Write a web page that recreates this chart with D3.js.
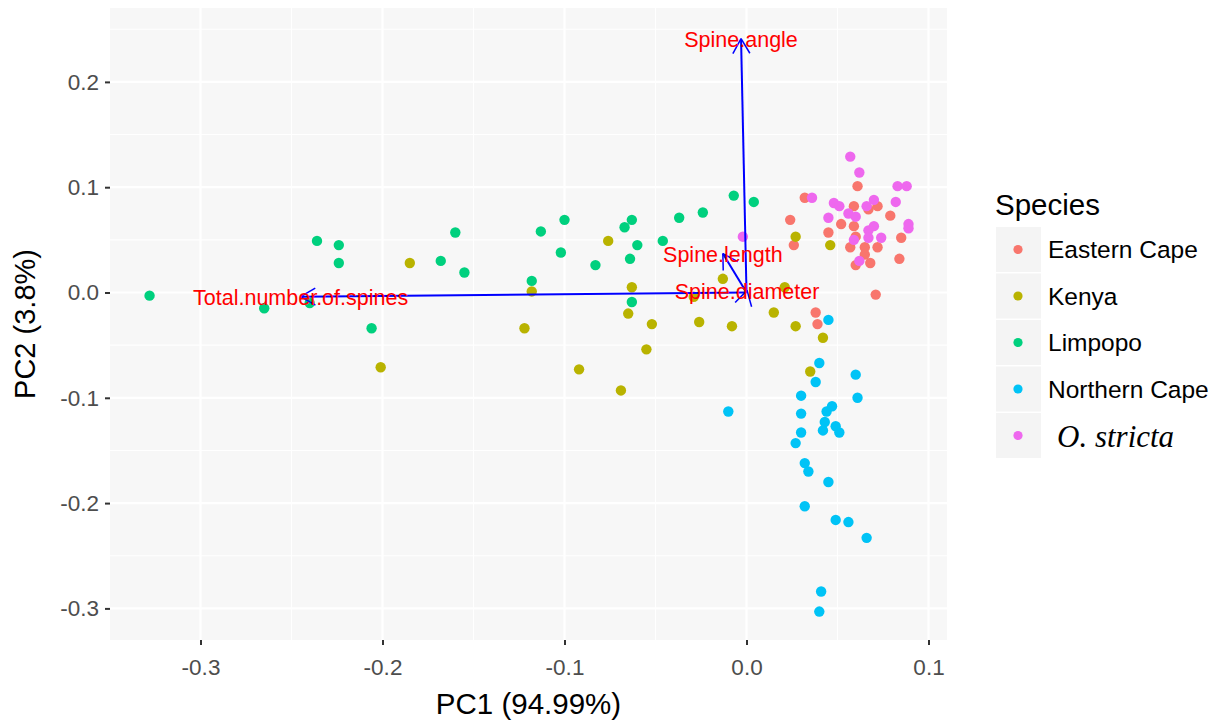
<html>
<head>
<meta charset="utf-8">
<style>
    body { margin:0; background:white; }
    text { font-family:"Liberation Sans", Arial, sans-serif; }
</style>
</head>
<body>
<svg id="plot"></svg>
<script src="https://d3js.org/d3.v7.min.js"></script>
<script>

// species groups, in legend order
var species = ["Eastern Cape","Kenya","Limpopo","Northern Cape","O. stricta"];
var colors = ["#F8766D","#B9B300","#00D07E","#00C3F6","#EE68EE"];

// PC1 / PC2 scores
var easternCape = [
    [0.032,0.090],[0.024,0.069],[0.026,0.045],[0.045,0.057],[0.038,-0.019],
    [0.039,-0.030],[0.071,-0.002],[0.061,0.101],[0.059,0.082],[0.072,0.082],
    [0.067,0.079],[0.079,0.073],[0.052,0.065],[0.059,0.063],[0.060,0.053],
    [0.085,0.052],[0.057,0.043],[0.065,0.043],[0.072,0.043],[0.065,0.036],
    [0.084,0.032],[0.060,0.026],[0.068,0.028]
];
var kenya = [
    [-0.185,0.028],[-0.118,0.001],[-0.122,-0.034],[-0.201,-0.071],[-0.076,0.049],
    [-0.092,-0.073],[-0.069,-0.093],[-0.063,0.005],[-0.065,-0.020],[-0.052,-0.030],
    [-0.026,-0.028],[-0.008,-0.032],[-0.013,0.013],[-0.029,-0.004],[0.021,0.005],
    [0.015,-0.019],[0.027,-0.032],[0.027,0.053],[0.046,0.045],[0.042,-0.043],
    [0.035,-0.075],[-0.055,-0.054]
];
var limpopo = [
    [-0.328,-0.003],[-0.265,-0.015],[-0.240,-0.010],[-0.236,0.049],[-0.224,0.045],
    [-0.224,0.028],[-0.206,-0.034],[-0.160,0.057],[-0.168,0.030],[-0.155,0.019],
    [-0.113,0.058],[-0.118,0.011],[-0.100,0.069],[-0.102,0.038],[-0.083,0.026],
    [-0.067,0.062],[-0.063,0.069],[-0.060,0.045],[-0.064,0.032],[-0.046,0.049],
    [-0.037,0.071],[-0.024,0.076],[-0.007,0.092],[0.004,0.086],[-0.063,-0.009]
];
var northernCape = [
    [0.045,-0.026],[-0.010,-0.113],[0.040,-0.067],[0.038,-0.085],[0.060,-0.078],
    [0.061,-0.100],[0.030,-0.098],[0.047,-0.108],[0.044,-0.113],[0.030,-0.115],
    [0.043,-0.123],[0.042,-0.131],[0.049,-0.127],[0.051,-0.133],[0.030,-0.133],
    [0.027,-0.143],[0.032,-0.162],[0.034,-0.170],[0.045,-0.180],[0.032,-0.203],
    [0.049,-0.216],[0.056,-0.218],[0.066,-0.233],[0.041,-0.284],[0.040,-0.303]
];
var stricta = [
    [-0.002,0.053],[0.036,0.090],[0.057,0.129],[0.062,0.114],[0.083,0.101],
    [0.088,0.101],[0.048,0.085],[0.051,0.082],[0.066,0.082],[0.070,0.088],
    [0.082,0.086],[0.045,0.071],[0.056,0.075],[0.060,0.072],[0.089,0.065],
    [0.089,0.061],[0.070,0.063],[0.067,0.059],[0.067,0.052],[0.074,0.052],
    [0.059,0.050],[0.062,0.030]
];
var scores = [easternCape,kenya,limpopo,northernCape,stricta];

// variable loadings (arrows)
var varNames = ["Total.number.of.spines","Spine.angle","Spine.length","Spine.diameter"];
var varPC1 = [-0.245,-0.003,-0.013,0.0003];
var varPC2 = [-0.004,0.241,0.037,0.002];

var xTicks = [-0.3,-0.2,-0.1,0.0,0.1];
var yTicks = [-0.3,-0.2,-0.1,0.0,0.1,0.2];
var xMinor = [-0.25,-0.15,-0.05,0.05];
var yMinor = [-0.25,-0.15,-0.05,0.05,0.15,0.25];

var screen = {width:1230, height:722};
var panel = {left:110, right:947, top:8, bottom:640};

var svg = d3.select("#plot")
    .attr("width",screen.width)
    .attr("height",screen.height);

var xScale = d3.scaleLinear()
    .domain([-0.34973,0.11016])
    .range([panel.left,panel.right]);

var yScale = d3.scaleLinear()
    .domain([-0.33001,0.27018])
    .range([panel.bottom,panel.top]);

//plain hyphen for negative tick labels, like R
var fmt = function(d){return d.toFixed(1);};

//panel background
svg.append("rect")
    .attr("x",panel.left)
    .attr("y",panel.top)
    .attr("width",panel.right-panel.left)
    .attr("height",panel.bottom-panel.top)
    .attr("fill","#F7F7F7");

//grid lines
var grid = svg.append("g").classed("grid",true);

grid.selectAll(".vminor").data(xMinor).enter().append("line")
    .attr("x1",function(d){return xScale(d);})
    .attr("x2",function(d){return xScale(d);})
    .attr("y1",panel.top).attr("y2",panel.bottom)
    .attr("stroke","white").attr("stroke-width",1.1);

grid.selectAll(".hminor").data(yMinor).enter().append("line")
    .attr("y1",function(d){return yScale(d);})
    .attr("y2",function(d){return yScale(d);})
    .attr("x1",panel.left).attr("x2",panel.right)
    .attr("stroke","white").attr("stroke-width",1.1);

grid.selectAll(".vmajor").data(xTicks).enter().append("line")
    .attr("x1",function(d){return xScale(d);})
    .attr("x2",function(d){return xScale(d);})
    .attr("y1",panel.top).attr("y2",panel.bottom)
    .attr("stroke","white").attr("stroke-width",2.2);

grid.selectAll(".hmajor").data(yTicks).enter().append("line")
    .attr("y1",function(d){return yScale(d);})
    .attr("y2",function(d){return yScale(d);})
    .attr("x1",panel.left).attr("x2",panel.right)
    .attr("stroke","white").attr("stroke-width",2.2);

//axes
var xAxis = d3.axisBottom(xScale)
    .tickValues(xTicks)
    .tickSize(5)
    .tickPadding(9)
    .tickFormat(fmt);

var yAxis = d3.axisLeft(yScale)
    .tickValues(yTicks)
    .tickSize(5)
    .tickPadding(6)
    .tickFormat(fmt);

var gx = svg.append("g")
    .attr("transform","translate(0,"+panel.bottom+")")
    .call(xAxis);

var gy = svg.append("g")
    .attr("transform","translate("+panel.left+",0)")
    .call(yAxis);

[gx,gy].forEach(function(g)
{
    g.select(".domain").remove();
    g.selectAll(".tick line").attr("stroke","#333333").attr("stroke-width",2);
    g.selectAll(".tick text")
        .attr("fill","#4D4D4D")
        .style("font-size","22.5px")
        .style("font-family","'Liberation Sans', Arial, sans-serif");
});
gx.selectAll(".tick text").attr("dy","0.95em");

//points
scores.forEach(function(group,i)
{
    svg.append("g")
        .selectAll("circle")
        .data(group)
        .enter()
        .append("circle")
        .attr("cx",function(d){return xScale(d[0]);})
        .attr("cy",function(d){return yScale(d[1]);})
        .attr("r",5.2)
        .attr("fill",colors[i]);
});

//loading arrows
var arrows = svg.append("g").classed("arrows",true);
var x0 = xScale(0), y0 = yScale(0);
var headLen = 17;

varNames.forEach(function(name,i)
{
    var tx = xScale(varPC1[i]);
    var ty = yScale(varPC2[i]);
    arrows.append("line")
        .attr("x1",x0).attr("y1",y0)
        .attr("x2",tx).attr("y2",ty)
        .attr("stroke","#0000FF")
        .attr("stroke-width",2);
    var ang = Math.atan2(ty-y0,tx-x0);
    [Math.PI/6,-Math.PI/6].forEach(function(off)
    {
        arrows.append("line")
            .attr("x1",tx).attr("y1",ty)
            .attr("x2",tx+headLen*Math.cos(ang+Math.PI+off))
            .attr("y2",ty+headLen*Math.sin(ang+Math.PI+off))
            .attr("stroke","#0000FF")
            .attr("stroke-width",1.5);
    });
});

//loading labels
svg.append("g")
    .selectAll("text")
    .data(varNames)
    .enter()
    .append("text")
    .attr("x",function(d,i){return xScale(varPC1[i]);})
    .attr("y",function(d,i){return yScale(varPC2[i]);})
    .attr("text-anchor","middle")
    .attr("dy","0.4em")
    .attr("fill","#FF0000")
    .style("font-size","21.5px")
    .text(function(d){return d;});

//axis titles
svg.append("text")
    .attr("x",(panel.left+panel.right)/2)
    .attr("y",714)
    .attr("text-anchor","middle")
    .style("font-size","29.5px")
    .text("PC1 (94.99%)");

svg.append("g")
    .attr("transform","translate(35,"+((panel.top+panel.bottom)/2)+")")
    .append("text")
    .attr("transform","rotate(-90)")
    .attr("text-anchor","middle")
    .style("font-size","29px")
    .text("PC2 (3.8%)");

//legend
var legend = svg.append("g").classed("legend",true);

legend.append("text")
    .attr("x",995)
    .attr("y",215)
    .style("font-size","29.5px")
    .text("Species");

var keys = legend.selectAll(".key")
    .data(species)
    .enter()
    .append("g")
    .attr("transform",function(d,i){return "translate(996,"+(227+i*46.5)+")";});

keys.append("rect")
    .attr("width",45)
    .attr("height",45)
    .attr("fill","#F4F4F4");

keys.append("circle")
    .attr("cx",22)
    .attr("cy",22.5)
    .attr("r",4.6)
    .attr("fill",function(d,i){return colors[i];});

keys.append("text")
    .attr("x",function(d,i){return i==4 ? 61 : 52;})
    .attr("y",22.5)
    .attr("dy","0.36em")
    .style("font-size",function(d,i){return i==4 ? "31px" : "24.5px";})
    .style("font-family",function(d,i){return i==4 ? "'Liberation Serif', 'Times New Roman', serif" : null;})
    .style("font-style",function(d,i){return i==4 ? "italic" : null;})
    .text(function(d){return d;});

</script>
</body>
</html>
